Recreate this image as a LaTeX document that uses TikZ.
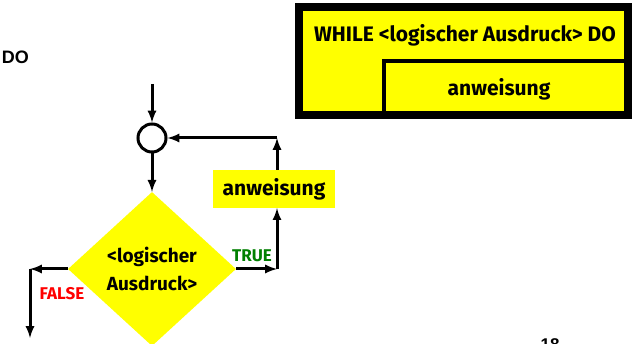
\documentclass[tikz,border=0pt]{standalone}
\usepackage{fontspec}
\setmainfont{Fira Sans}
\newfontfamily\arialfont{Liberation Sans}
\usetikzlibrary{positioning}
\usetikzlibrary{shapes.geometric}
\definecolor{flowyellow}{RGB}{255,255,0}
\definecolor{truegreen}{RGB}{0,128,0}
\definecolor{falsered}{RGB}{255,0,0}
\tikzset{flow line/.style={line width=3pt,-latex},
	decision node/.style={diamond,fill=flowyellow,minimum width=168pt,minimum height=154pt,aspect=1.09,inner sep=0pt,align=center,font=\bfseries\fontsize{19}{28}\selectfont},
	action node/.style={rectangle,fill=flowyellow,minimum width=122pt,minimum height=38pt,inner sep=0pt,font=\bfseries\fontsize{21}{24}\selectfont},
	label node/.style={font=\bfseries\fontsize{17}{18}\selectfont},}

\begin{document}
\begin{tikzpicture}[x=1pt,y=-1pt]
	\useasboundingbox (0,0) rectangle (632,344);

	% Struktogramm
	\draw[line width=8pt,fill=flowyellow] (299,7) rectangle (628,115);
	\draw[line width=4pt] (384,113) |- (626,61);
	\node[font=\bfseries\fontsize{21}{24}\selectfont] (while) at (465,35) {WHILE <logischer Ausdruck> DO};
	\node[font=\bfseries\fontsize{21}{24}\selectfont] (body) at (499,89) {anweisung};

	% Ablaufplan
	\coordinate (start) at (152,84);
	\node[circle,draw,line width=3pt,minimum size=28pt,inner sep=0pt] (join) at (152,138) {};
	\node[decision node] (cond) at (152,269) {<logischer\\Ausdruck>};
	\node[action node] (step) at (274,189) {anweisung};
	\coordinate (truecorner) at (277,269);
	\coordinate (loopcorner) at (277,138);
	\coordinate (falsecorner) at (30,269);
	\coordinate (exit) at (30,338);

	\draw[flow line] (start) -- (join);
	\draw[flow line] (join) -- (cond.north);
	\draw[flow line] (cond.east) -- (truecorner);
	\draw[flow line] (truecorner) -- (step.south -| truecorner);
	\draw[flow line] (step.north -| loopcorner) -- (loopcorner);
	\draw[flow line] (loopcorner) -- (join);
	\draw[flow line] (cond.west) -- (falsecorner);
	\draw[flow line] (falsecorner) -- (exit);

	\node[label node,text=truegreen] (true) at (252,256) {TRUE};
	\node[label node,text=falsered] (false) at (62,294) {FALSE};

	% Reste
	\node[font=\arialfont\bfseries\fontsize{18}{20}\selectfont,anchor=east,inner sep=0pt] (do) at (29,57) {DO};
	\node[font=\arialfont\bfseries\fontsize{17}{20}\selectfont,anchor=north,inner sep=0pt] (page) at (550,338) {18};
\end{tikzpicture}
\end{document}
